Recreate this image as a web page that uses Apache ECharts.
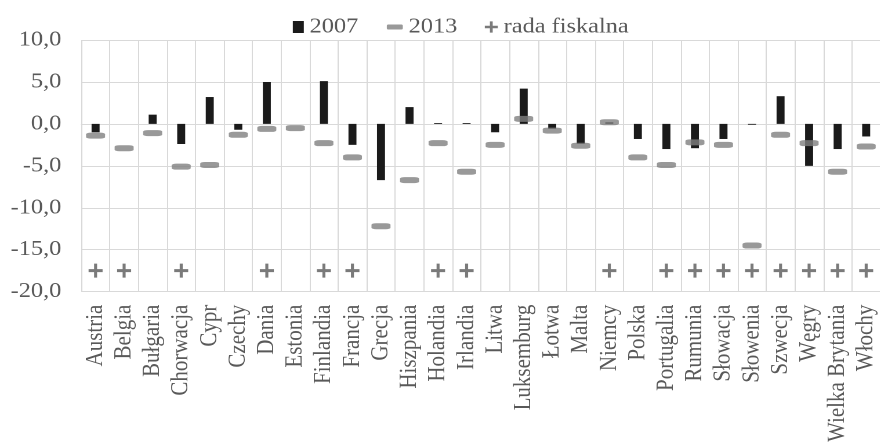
<!DOCTYPE html>
<html>
<head>
<meta charset="utf-8">
<script src="https://cdn.jsdelivr.net/npm/echarts@6/dist/echarts.min.js"></script>
<style>
  html, body { margin: 0; padding: 0; background: #ffffff; overflow: hidden; }
  #wrap { width: 881px; height: 445px; overflow: hidden; }
  #chart { height: 445px; transform-origin: 0 0; }
</style>
</head>
<body>
<div id="wrap"><div id="chart"></div></div>
<script>
const categories = ['Austria','Belgia','Bułgaria','Chorwacja','Cypr','Czechy','Dania','Estonia','Finlandia','Francja','Grecja','Hiszpania','Holandia','Irlandia','Litwa','Luksemburg','Łotwa','Malta','Niemcy','Polska','Portugalia','Rumunia','Słowacja','Słowenia','Szwecja','Węgry','Wielka Brytania','Włochy'];
const v2007 = [-1.0, 0.0, 1.1, -2.4, 3.2, -0.7, 5.0, null, 5.1, -2.5, -6.7, 2.0, 0.1, 0.1, -1.0, 4.2, -0.6, -2.4, 0.2, -1.8, -3.0, -2.9, -1.8, -0.1, 3.3, -5.0, -3.0, -1.5];
const v2013 = [-1.4, -2.9, -1.1, -5.1, -4.9, -1.3, -0.6, -0.5, -2.3, -4.0, -12.2, -6.7, -2.3, -5.7, -2.5, 0.6, -0.8, -2.6, 0.2, -4.0, -4.9, -2.2, -2.5, -14.5, -1.3, -2.3, -5.7, -2.7];
const radaFiskalna = [-17.5, -17.5, null, -17.5, null, null, -17.5, null, -17.5, -17.5, null, null, -17.5, -17.5, null, null, null, null, -17.5, null, -17.5, -17.5, -17.5, -17.5, -17.5, -17.5, -17.5, -17.5];
const yTicks = { min: -20, max: 10, interval: 5 };

const S = 1.16; // horizontal stretch of the reference
const W = 881 / S;
const el = document.getElementById('chart');
el.style.width = W + 'px';
el.style.transform = 'scaleX(' + S + ')';

const FONT = 'Liberation Serif';
const TXT = '#595959';
const GRID = '#d9d9d9';
const plusPath = 'path://M5.5,0h3v5.5h5.5v3h-5.5v5.5h-3v-5.5h-5.5v-3h5.5z';
const dash = v => (v === null ? '-' : v);

const chart = echarts.init(el, null, { renderer: 'canvas', devicePixelRatio: 2 });
chart.setOption({
  animation: false,
  backgroundColor: '#ffffff',
  legend: [
    { data: [{ name: '2007', icon: 'rect' }], left: 287 / S, top: 11.5, itemWidth: 11 / S, itemHeight: 12,
      selectedMode: false, textStyle: { color: TXT, fontFamily: FONT, fontSize: 21 } },
    { data: [{ name: '2013', icon: 'roundRect' }], left: 381 / S, top: 11.5, itemWidth: 16 / S, itemHeight: 5,
      selectedMode: false, textStyle: { color: TXT, fontFamily: FONT, fontSize: 21 } },
    { data: [{ name: 'rada fiskalna', icon: plusPath }], left: 479 / S, top: 11.5, itemWidth: 13 / S, itemHeight: 12,
      selectedMode: false, textStyle: { color: TXT, fontFamily: FONT, fontSize: 21 } }
  ],
  grid: { left: 81.3 / S, top: 40, width: (883.8 - 81.3) / S, height: 256, containLabel: false },
  xAxis: {
    type: 'category',
    data: categories,
    boundaryGap: true,
    axisLine: { show: true, lineStyle: { color: GRID, width: 1 } },
    axisTick: { show: false },
    splitLine: { show: true, interval: 0, lineStyle: { color: GRID, width: 1 } },
    axisLabel: { interval: 0, rotate: 90, margin: 13, color: TXT, fontFamily: FONT, fontSize: 21 }
  },
  yAxis: {
    type: 'value',
    min: yTicks.min, max: yTicks.max, interval: yTicks.interval,
    axisLine: { show: false },
    axisTick: { show: false },
    splitLine: { show: true, lineStyle: { color: GRID, width: 1 } },
    axisLabel: {
      margin: 20 / S, color: TXT, fontFamily: FONT, fontSize: 21,
      formatter: v => v.toFixed(1).replace('.', ',')
    }
  },
  series: [
    { name: '2007', type: 'bar', data: v2007.map(dash), barWidth: 8 / S,
      itemStyle: { color: '#1a1a1a' } },
    { name: '2013', type: 'scatter', data: v2013.map(dash), symbol: 'roundRect',
      symbolSize: [19 / S, 6], itemStyle: { color: '#7f7f7f' } },
    { name: 'rada fiskalna', type: 'scatter', data: radaFiskalna.map(dash), symbol: plusPath,
      symbolSize: [14 / S, 14], itemStyle: { color: '#595959' } }
  ]
});
</script>
</body>
</html>
